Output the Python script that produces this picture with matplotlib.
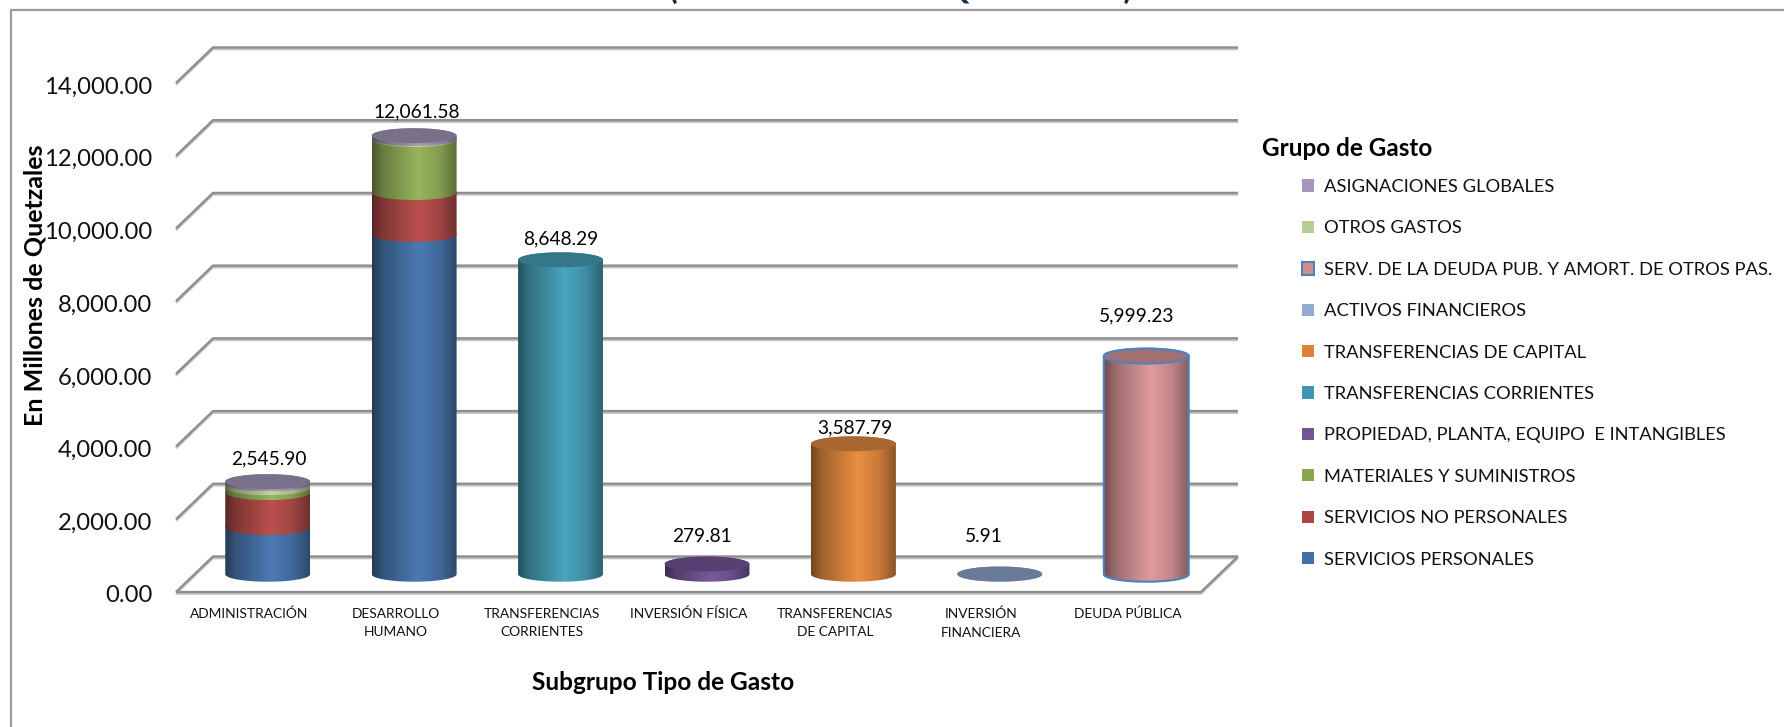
import numpy as np
import matplotlib
matplotlib.use("Agg")
import matplotlib.pyplot as plt
import matplotlib.patheffects as pe
from matplotlib.colors import to_rgb
from matplotlib.lines import Line2D
from matplotlib.patches import Patch, PathPatch
from matplotlib.path import Path
from matplotlib.transforms import Affine2D

plt.rcParams['font.family'] = ['Lato', 'DejaVu Sans']

#%% Data

categories = ["ADMINISTRACIÓN", "DESARROLLO\nHUMANO", "TRANSFERENCIAS\nCORRIENTES",
              "INVERSIÓN FÍSICA", "TRANSFERENCIAS\nDE CAPITAL",
              "INVERSIÓN\nFINANCIERA", "DEUDA PÚBLICA"]

# stacked bottom to top
personales = [1285, 9350, 0, 0, 0, 0, 0]
no_personales = [960, 1150, 0, 0, 0, 0, 0]
materiales = [130, 1455, 0, 0, 0, 0, 0]
propiedad = [0, 0, 0, 279.81, 0, 0, 0]
corrientes = [0, 0, 8648.29, 0, 0, 0, 0]
capital = [0, 0, 0, 0, 3587.79, 0, 0]
activos = [0, 0, 0, 0, 0, 5.91, 0]
deuda = [0, 0, 0, 0, 0, 0, 5999.23]
otros = [110, 30, 0, 0, 0, 0, 0]
asignaciones = [60.90, 76.58, 0, 0, 0, 0, 0]

series = [personales, no_personales, materiales, propiedad, corrientes,
          capital, activos, deuda, otros, asignaciones]
names = ["SERVICIOS PERSONALES", "SERVICIOS NO PERSONALES", "MATERIALES Y SUMINISTROS",
         "PROPIEDAD, PLANTA, EQUIPO  E INTANGIBLES", "TRANSFERENCIAS CORRIENTES",
         "TRANSFERENCIAS DE CAPITAL", "ACTIVOS FINANCIEROS",
         "SERV. DE LA DEUDA PUB. Y AMORT. DE OTROS PAS.", "OTROS GASTOS",
         "ASIGNACIONES GLOBALES"]
legend_colors = ["#4271a8", "#aa4643", "#8ba64c", "#735595", "#3e96b0", "#dd8238",
                 "#94aad4", "#d08f8f", "#b7cf94", "#a597bb"]
body_colors = ["#4b7ab3", "#ba504d", "#98b65c", "#7a5a9e", "#49a5be", "#ea8e42",
               "#94aad4", "#e09c9f", "#c0d89c", "#a99bc0"]
yticks = [0, 2000, 4000, 6000, 8000, 10000, 12000, 14000]

# label offsets from the top of each column, in pixels
label_dx = [1, 3, 0, -5, 1, -16, -10]
label_dy = [23, 24, 21, 28, 16, 38, 40]

#%% Figure

W, H = 1784, 727
fig = plt.figure(figsize=(W / 100, H / 100), dpi=100)
# the axes are the front plane of the 3D box
left, right, bottom, top = 176, 1201, 592, 83
ax = fig.add_axes([left / W, 1 - bottom / H, (right - left) / W, (bottom - top) / H])
ax.set_xlim(-0.5, 6.5)
ax.set_ylim(0, 14000)
ax.patch.set_visible(False)
for s in ax.spines.values():
    s.set_visible(False)

# box depth and cylinder size in data units
depth_x, depth_y = 0.2526, 977
rx, ry = 0.29, 206

#%% Grid

grid_style = dict(color="#8e8e8e", lw=1.7, clip_on=False, solid_capstyle="butt", zorder=1,
                  path_effects=[pe.SimpleLineShadow(offset=(0, -1.2), shadow_color="#c4c4c4", alpha=1),
                                pe.Normal()])
for v in yticks:
    ax.plot([-0.5, -0.5 + depth_x, 6.5 + depth_x], [v, v + depth_y, v + depth_y], **grid_style)
ax.plot([-0.5, 6.5, 6.5 + depth_x], [0, 0, depth_y], **grid_style)

#%% Cylinders


def cylinder(x, y0, y1, color, is_top, edge=None):
    t = np.linspace(0, np.pi, 40)
    xs = x + rx * np.cos(t)
    lower = y0 - ry * np.sin(t)
    upper = y1 + ry * np.sin(t)
    verts = np.vstack([np.c_[xs[::-1], lower[::-1]], np.c_[xs, upper]])
    path = Path(np.vstack([verts, verts[0]]), closed=True)

    # horizontal shading, dark on the left, bright past the middle
    pos = np.linspace(0, 1, 128)
    amount = np.interp(pos, [0, 0.12, 0.55, 0.8, 1], [0.48, 0.68, 1, 0.86, 0.6])
    rgb = np.array(to_rgb(color))
    img = (amount[None, :, None] * rgb).clip(0, 1)
    im = ax.imshow(img, extent=(x - rx, x + rx, y0 - ry, y1 + ry), aspect="auto",
                   interpolation="bilinear", zorder=3)
    clip = PathPatch(path, transform=ax.transData, fc="none", ec="none")
    ax.add_patch(clip)
    im.set_clip_path(clip)
    if edge:
        ax.add_patch(PathPatch(path, fc="none", ec=edge, lw=1.5, zorder=3.2, clip_on=False))
    if is_top:
        cap = np.c_[x + rx * np.cos(2 * t), y1 + ry * np.sin(2 * t)]
        ax.add_patch(plt.Polygon(cap, closed=True, fc=tuple(rgb * 0.72), ec=edge or "none",
                                 lw=1.5, zorder=3.3, clip_on=False))


totals = np.sum(series, axis=0)
for i in range(len(categories)):
    x = i + depth_x / 2
    base = depth_y / 2
    drawn = [k for k in range(len(series)) if series[k][i] > 0]
    for k in drawn:
        edge = "#4f81bd" if series[k] is deuda else None
        cylinder(x, base, base + series[k][i], body_colors[k], k == drawn[-1], edge)
        base += series[k][i]
    ax.annotate(f"{totals[i]:,.2f}", xy=(x, base), xytext=(label_dx[i], label_dy[i]),
                textcoords="offset pixels", ha="center", va="center", fontsize=13.8,
                color="#000000", zorder=5, annotation_clip=False)

# imshow resets the limits
ax.set_xlim(-0.5, 6.5)
ax.set_ylim(0, 14000)

#%% Axes text

ax.set_xticks(range(len(categories)))
ax.set_xticklabels(categories, fontsize=9.9, linespacing=1.61, color="#111111")
ax.tick_params(axis="x", length=0, pad=11.5)
ax.set_yticks(yticks)
ax.set_yticklabels([f"{v:,.2f}" for v in yticks], fontsize=17.2, color="#111111")
ax.tick_params(axis="y", length=0, pad=17)
# labels sit a little below the end of their grid lines
for lab in ax.get_yticklabels():
    lab.set_transform(lab.get_transform() + Affine2D().translate(0, -2))

fig.text(35 / W, 1 - 285 / H, "En Millones de Quetzales", rotation=90, ha="center", va="center",
         fontsize=18, fontweight="bold", color="#000000")
fig.text(663 / W, 1 - 682 / H, "Subgrupo Tipo de Gasto", ha="center", va="center",
         fontsize=17.6, fontweight="bold", color="#000000")
# the title is cut off by the top of the picture
fig.text(901 / W, 1 + 1.5 / H, "(EN MILLONES DE QUETZALES)", ha="center", va="baseline",
         fontsize=22.9, fontweight="bold", color="#10294d")

# chart frame, only left and top fall inside the picture
fig.add_artist(Line2D([11 / W, 11 / W, 1], [0, 1 - 10 / H, 1 - 10 / H], color="#9a9a9a", lw=1.6))

#%% Legend

fig.text(1262 / W, 1 - 148 / H, "Grupo de Gasto", ha="left", va="center",
         fontsize=17.5, fontweight="bold", color="#000000")
handles = []
for k in range(len(names)):
    if series[k] is deuda:
        handles.append(Patch(fc=legend_colors[k], ec="#4f81bd", lw=1.5))
    else:
        handles.append(Patch(fc=legend_colors[k], ec="none"))
leg = fig.legend(handles[::-1], names[::-1], loc="upper left", frameon=False,
                 bbox_to_anchor=(1302 / W, 1 - 179 / H), borderaxespad=0, borderpad=0,
                 fontsize=13.2, handlelength=0.66, handleheight=0.66, handletextpad=0.54,
                 labelspacing=1.385, labelcolor="#111111")

fig.savefig("out.png", dpi=100)
